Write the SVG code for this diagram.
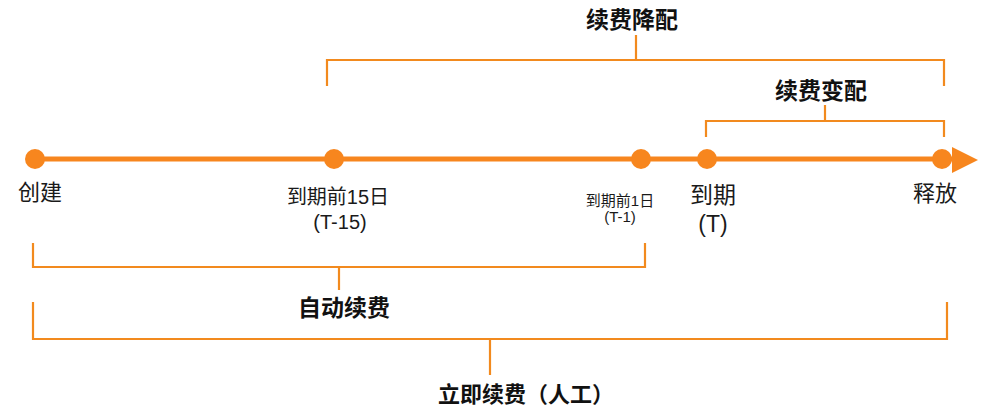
<svg xmlns="http://www.w3.org/2000/svg" width="1000" height="415" viewBox="0 0 1000 415">
<style>
.t{font-family:"Liberation Sans","Noto Sans CJK SC",sans-serif;fill:#1a1a1a;text-anchor:middle}
.b{font-weight:bold;fill:#111}
.br{fill:none;stroke:#F28A1E;stroke-width:2.2}
.dot{fill:#F7861E}
</style>
<rect width="1000" height="415" fill="#fff"/>
<g id="connectors">
<line x1="35" y1="159" x2="954" y2="159" stroke="#F7861E" stroke-width="5"/>
<polygon points="952,147 978,160 952,173" fill="#F7861E"/>
<path class="br" d="M327,86 V60 H944 V86 M636,60 V35"/>
<path class="br" d="M706,137 V121 H944 V137 M825,121 V105"/>
<path class="br" d="M33,243 V267 H645 V243 M339,267 V290"/>
<path class="br" d="M33,302 V339 H947 V302 M490,339 V375"/>
</g>
<g id="n-create"><circle class="dot" cx="35" cy="159" r="10"/><text class="t" x="40" y="200" font-size="22">创建</text></g>
<g id="n-t15"><circle class="dot" cx="334" cy="159" r="10"/><text class="t" x="338" y="204" font-size="20">到期前15日</text><text class="t" x="340" y="229" font-size="20">(T-15)</text></g>
<g id="n-t1"><circle class="dot" cx="641" cy="159" r="10"/><text class="t" x="620" y="206" font-size="15">到期前1日</text><text class="t" x="620" y="222" font-size="15">(T-1)</text></g>
<g id="n-t"><circle class="dot" cx="707" cy="159" r="10"/><text class="t" x="713" y="203" font-size="23">到期</text><text class="t" x="713" y="232" font-size="23">(T)</text></g>
<g id="n-release"><circle class="dot" cx="942" cy="159" r="10"/><text class="t" x="935" y="201" font-size="22">释放</text></g>
<g id="l-downgrade"><text class="t b" x="632" y="28" font-size="23">续费降配</text></g>
<g id="l-change"><text class="t b" x="821" y="99" font-size="23">续费变配</text></g>
<g id="l-auto"><text class="t b" x="344" y="316" font-size="23">自动续费</text></g>
<g id="l-manual"><text class="t b" x="526" y="402" font-size="22">立即续费（人工）</text></g>
</svg>
